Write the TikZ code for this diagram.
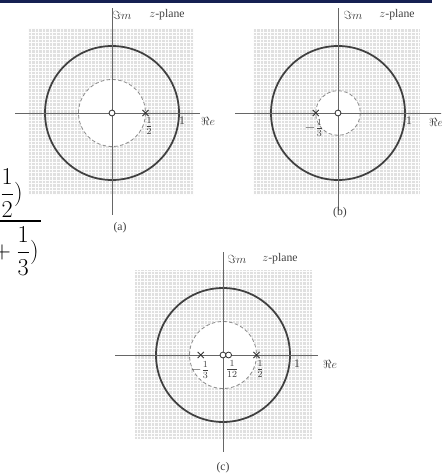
\documentclass[tikz,border=0pt]{standalone}
\usepackage{amsmath}
\usepackage{fontspec}
\setmainfont{Liberation Serif}
\usetikzlibrary{patterns, shapes.misc}

\definecolor{slidebar}{RGB}{22,32,82}
\definecolor{rocgray}{RGB}{224,224,224}

\tikzset{
	rocsquare/.style={fill=rocgray, draw=none},
	rocgrid/.style={pattern=grid, pattern color=white!92!rocgray},
	unitcirc/.style={line width=1.5pt, black!75},
	rocedge/.style={dashed, dash pattern=on 3pt off 2pt, line width=0.7pt, draw=black!45, fill=white},
	axisline/.style={line width=0.5pt, black!60},
	zeromark/.style={circle, draw=black!80, fill=white, line width=0.7pt, inner sep=0pt, minimum size=5pt},
	polemark/.style={cross out, draw=black!80, line width=0.7pt, inner sep=0pt, minimum size=4.5pt},
	lbl/.style={font=\fontsize{10}{12}\selectfont, text=black!75, inner sep=1pt},
	frlbl/.style={font=\fontsize{12}{14}\selectfont, text=black!75, inner sep=0pt},
	bigmath/.style={font=\fontsize{21}{25}\selectfont, inner sep=0pt}
}

\begin{document}
\begin{tikzpicture}[x=0.03cm, y=-0.03cm]
	\useasboundingbox (0,0) rectangle (441,475);
	\clip (0,0) rectangle (441,475);

	% Thanh tiêu đề phía trên
	\fill[slidebar] (0,0) rectangle (432,2.5);

	% Phần công thức bị cắt bên trái
	\node[bigmath, anchor=east] (numfrac) at (23,193) {$-\dfrac{1}{2})$};
	\node[bigmath, anchor=east] (denfrac) at (39,251) {$z+\dfrac{1}{3})$};
	\draw[line width=1pt] (0,221) -- (41,221);

	% (a) cực tại 1/2, ROC |z| > 1/2
	\begin{scope}[shift={(112,113)}]
		\fill[rocsquare] (-84,-85) rectangle (82,82);
		\fill[rocgrid] (-84,-85) rectangle (82,82);
		\draw[rocedge] (0,0) circle[radius=33.5];
		\draw[unitcirc] (0,0) circle[radius=67];
		\draw[axisline] (-97,0) -- (88,0);
		\draw[axisline] (0,-105) -- (0,102);
		\node[zeromark] (za0) at (0,0) {};
		\node[polemark] (pa1) at (33.5,0) {};
		\node[lbl] (ima) at (10,-98) {$\Im m$};
		\node[lbl] (zpa) at (55,-98) {$z$-plane};
		\node[frlbl] (hfa) at (37,13) {$\frac{1}{2}$};
		\node[lbl] (onea) at (70,8) {1};
		\node[lbl] (rea) at (96,8) {$\Re e$};
		\node[lbl] (capa) at (8,115) {(a)};
	\end{scope}

	% (b) cực tại -1/3, ROC |z| > 1/3
	\begin{scope}[shift={(338,113)}]
		\fill[rocsquare] (-85,-84) rectangle (82,82);
		\fill[rocgrid] (-85,-84) rectangle (82,82);
		\draw[rocedge] (0,0) circle[radius=22.3];
		\draw[unitcirc] (0,0) circle[radius=67];
		\draw[axisline] (-103,0) -- (105,0);
		\draw[axisline] (0,-105) -- (0,98);
		\node[zeromark] (zb0) at (0,0) {};
		\node[polemark] (pb1) at (-22.3,0) {};
		\node[lbl] (imb) at (15,-98) {$\Im m$};
		\node[lbl] (zpb) at (59,-98) {$z$-plane};
		\node[frlbl] (hfb) at (-24,15) {$-\frac{1}{3}$};
		\node[lbl] (oneb) at (71,8) {1};
		\node[lbl] (reb) at (98,9) {$\Re e$};
		\node[lbl] (capb) at (2,100) {(b)};
	\end{scope}

	% (c) hai không điểm 0, 1/12; hai cực -1/3, 1/2
	\begin{scope}[shift={(223,355)}]
		\fill[rocsquare] (-88,-85) rectangle (89,84);
		\fill[rocgrid] (-88,-85) rectangle (89,84);
		\draw[rocedge] (0,0) circle[radius=33.5];
		\draw[unitcirc] (0,0) circle[radius=67];
		\draw[axisline] (-108,0) -- (95,0);
		\draw[axisline] (0,-103) -- (0,97);
		\node[zeromark] (zc0) at (0,0) {};
		\node[zeromark] (zc1) at (5.6,0) {};
		\node[polemark] (pc1) at (-22.3,0) {};
		\node[polemark] (pc2) at (33.5,0) {};
		\node[lbl] (imc) at (14,-96) {$\Im m$};
		\node[lbl] (zpc) at (57,-96) {$z$-plane};
		\node[frlbl] (hfc1) at (-23,15) {$-\frac{1}{3}$};
		\node[frlbl] (hfc2) at (9,14) {$\frac{1}{12}$};
		\node[frlbl] (hfc3) at (37,14) {$\frac{1}{2}$};
		\node[lbl] (onec) at (74,9) {1};
		\node[lbl] (rec) at (107,9) {$\Re e$};
		\node[lbl] (capc) at (0,113) {(c)};
	\end{scope}
\end{tikzpicture}
\end{document}
